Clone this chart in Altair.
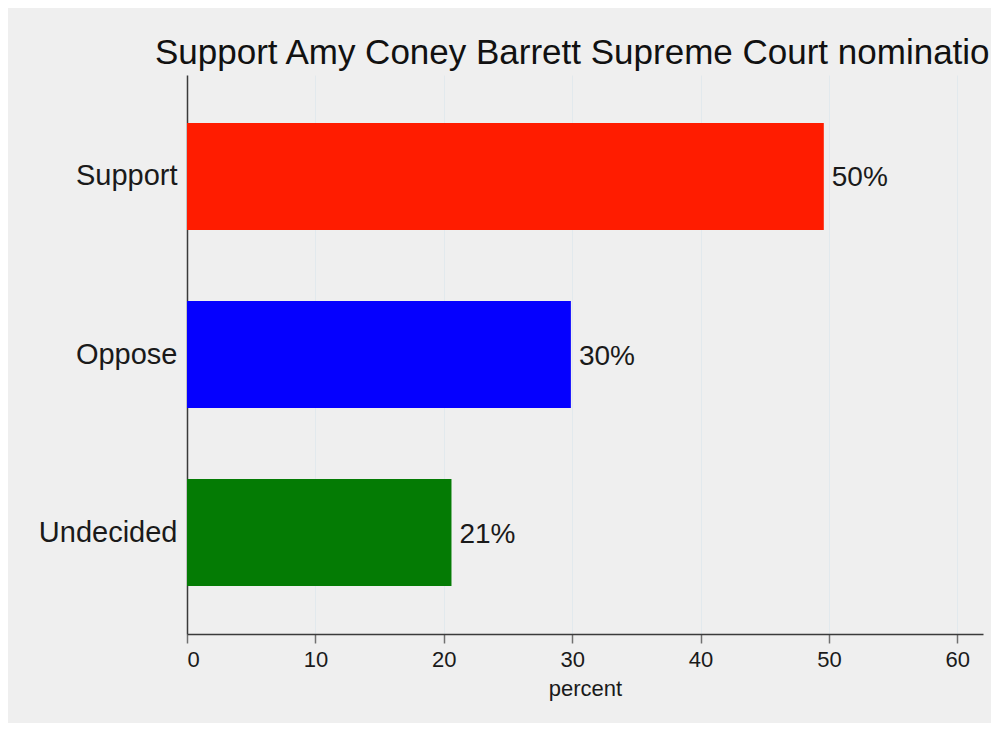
import altair as alt
import pandas as pd

categories = ["Support", "Oppose", "Undecided"]
values = [49.6, 29.9, 20.6]
labels = ["50%", "30%", "21%"]
colors = ["#ff1c00", "#0500ff", "#047b04"]
x_ticks = [0, 10, 20, 30, 40, 50, 60]
title_text = "Support Amy Coney Barrett Supreme Court nomination"
x_title = "percent"

df = pd.DataFrame({"category": categories, "percent": values, "label": labels})

FONT = "Liberation Sans, Arial, Helvetica, sans-serif"

x_enc = alt.X(
    "percent:Q",
    scale=alt.Scale(domain=[0, 62], nice=False, zero=True),
    axis=alt.Axis(
        values=x_ticks,
        title=x_title,
        grid=True,
        gridColor="#e2e9ed",
        gridWidth=1,
        ticks=True,
        tickSize=9,
        tickColor="#707070",
        tickWidth=1.5,
        domainColor="#3a3a3a",
        domainWidth=1.5,
        labelFontSize=22,
        labelPadding=6,
        labelColor="#1a1a1a",
        labelFont=FONT,
        titleFont=FONT,
        titleFontSize=22,
        titleFontWeight="normal",
        titleColor="#1a1a1a",
        titlePadding=8,
    ),
)
y_enc = alt.Y(
    "category:N",
    sort=categories,
    scale=alt.Scale(paddingInner=0.4, paddingOuter=0.27),
    axis=alt.Axis(
        title=None,
        ticks=False,
        grid=False,
        labelFontSize=29,
        labelPadding=10,
        labelColor="#1a1a1a",
        labelFont=FONT,
        domainColor="#3a3a3a",
        domainWidth=1.5,
    ),
)

bars = alt.Chart(df).mark_bar().encode(
    x=x_enc,
    y=y_enc,
    color=alt.Color(
        "category:N",
        scale=alt.Scale(domain=categories, range=colors),
        legend=None,
    ),
)

text = alt.Chart(df).mark_text(
    align="left", baseline="middle", dx=8, dy=2, fontSize=28, font=FONT, color="#1a1a1a"
).encode(
    x=alt.X("percent:Q"),
    y=alt.Y("category:N", sort=categories),
    text="label:N",
)

chart = (
    alt.layer(bars, text)
    .properties(
        width=796,
        height=559,
        title=alt.TitleParams(
            text=title_text,
            anchor="start",
            frame="group",
            dx=-32,
            dy=35,
            fontSize=35,
            fontWeight="normal",
            font=FONT,
            color="#111111",
            baseline="alphabetic",
            offset=11,
        ),
        autosize=alt.AutoSizeParams(type="none"),
        padding={"left": 179, "top": 67, "right": 8, "bottom": 89},
        background="#efefef",
    )
    .configure_view(stroke=None)
)

chart.save("out.html", embed_options={"renderer": "svg", "actions": False})
